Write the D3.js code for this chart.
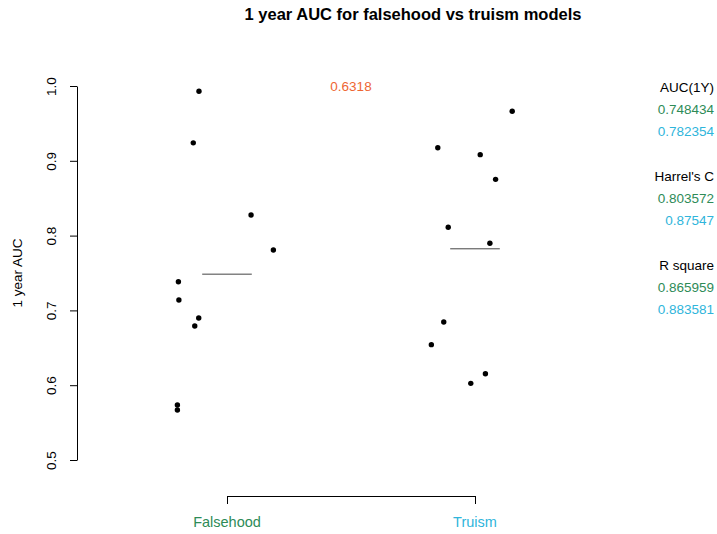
<!DOCTYPE html>
<html>
<head>
<meta charset="utf-8">
<script src="https://cdn.jsdelivr.net/npm/d3@7"></script>
<style>
  body { margin: 0; background: #fff; }
  text { font-family: "Liberation Sans", Arial, sans-serif; }
</style>
</head>
<body>
<svg id="chart" width="717" height="534"></svg>
<script>
const groups = ['Falsehood', 'Truism'];
const groupColours = ['#2e8b57', '#2fb5db'];

// AUC values, with their horizontal jitter (in group units)
const falsehoodAUC = [0.993, 0.924, 0.8275, 0.7807, 0.7384, 0.7139, 0.6898, 0.6791, 0.5735, 0.5668];
const falsehoodJitter = [-0.113, -0.136, 0.097, 0.187, -0.196, -0.194, -0.114, -0.130, -0.200, -0.200];
const truismAUC = [0.9662, 0.9175, 0.9082, 0.8752, 0.8111, 0.7897, 0.6845, 0.6542, 0.6154, 0.6025];
const truismJitter = [0.150, -0.150, 0.021, 0.083, -0.108, 0.060, -0.126, -0.176, 0.042, -0.017];

const groupMeans = [0.748434, 0.782354];
const pValue = '0.6318';

const statTitles = ['AUC(1Y)', "Harrel's C", 'R square'];
const statFalsehood = ['0.748434', '0.803572', '0.865959'];
const statTruism = ['0.782354', '0.87547', '0.883581'];

const yTicks = [0.5, 0.6, 0.7, 0.8, 0.9, 1.0];

const width = 717, height = 534;
const vis = d3.select('#chart');

const xScale = d3.scaleLinear().domain([1, 2]).range([227, 475]);
const yScale = d3.scaleLinear().domain([0.5, 1.0]).range([460, 86]);
const axisX = 77;

// title
vis.append('text')
  .attr('x', 413)
  .attr('y', 20)
  .attr('text-anchor', 'middle')
  .style('font-size', '16.5px')
  .style('font-weight', 'bold')
  .text('1 year AUC for falsehood vs truism models');

// y axis
const yAxis = d3.axisLeft(yScale)
  .tickValues(yTicks)
  .tickFormat(d3.format('.1f'))
  .tickSize(7)
  .tickSizeOuter(0);

const yg = vis.append('g')
  .attr('transform', 'translate(' + axisX + ',0)')
  .call(yAxis);
yg.select('.domain').attr('stroke', '#000');
yg.selectAll('.tick line').attr('stroke', '#000');
yg.selectAll('.tick text')
  .attr('transform', 'rotate(-90)')
  .attr('x', 0)
  .attr('y', -21)
  .attr('dy', 0)
  .attr('text-anchor', 'middle')
  .style('font-size', '13.5px')
  .style('font-family', '"Liberation Sans", Arial, sans-serif')
  .attr('fill', '#000');

vis.append('text')
  .attr('transform', 'translate(22,' + yScale(0.75) + ') rotate(-90)')
  .attr('text-anchor', 'middle')
  .style('font-size', '13.5px')
  .text('1 year AUC');

// x axis (bracket between the two groups)
const xAxis = d3.axisBottom(xScale)
  .tickValues([1, 2])
  .tickFormat('')
  .tickSize(8)
  .tickSizeOuter(0);
const xg = vis.append('g')
  .attr('transform', 'translate(0,496)')
  .call(xAxis);
xg.select('.domain').attr('stroke', '#000');
xg.selectAll('.tick line').attr('stroke', '#000');

vis.selectAll('.grp-label')
  .data(groups)
  .enter()
  .append('text')
  .attr('class', 'grp-label')
  .attr('x', (d, i) => xScale(i + 1))
  .attr('y', 527)
  .attr('text-anchor', 'middle')
  .style('font-size', '14.5px')
  .attr('fill', (d, i) => groupColours[i])
  .text(d => d);

// mean lines
vis.selectAll('.mean')
  .data(groupMeans)
  .enter()
  .append('line')
  .attr('class', 'mean')
  .attr('x1', (d, i) => xScale(i + 1 - 0.1))
  .attr('x2', (d, i) => xScale(i + 1 + 0.1))
  .attr('y1', d => yScale(d))
  .attr('y2', d => yScale(d))
  .attr('stroke', '#444')
  .attr('stroke-width', 1);

// points
const points = [];
falsehoodAUC.forEach((v, i) => points.push({ g: 1, j: falsehoodJitter[i], v: v }));
truismAUC.forEach((v, i) => points.push({ g: 2, j: truismJitter[i], v: v }));

vis.selectAll('.pt')
  .data(points)
  .enter()
  .append('circle')
  .attr('class', 'pt')
  .attr('cx', d => xScale(d.g + d.j))
  .attr('cy', d => yScale(d.v))
  .attr('r', 2.7)
  .attr('fill', '#000');

// p value
vis.append('text')
  .attr('x', xScale(1.5))
  .attr('y', yScale(1.0) + 5)
  .attr('text-anchor', 'middle')
  .style('font-size', '13.5px')
  .attr('fill', '#ee6633')
  .text(pValue);

// stats on the right
statTitles.forEach((t, i) => {
  const y0 = 92 + i * 89;
  const rows = [[t, '#000'], [statFalsehood[i], groupColours[0]], [statTruism[i], groupColours[1]]];
  rows.forEach((r, k) => {
    vis.append('text')
      .attr('x', 714)
      .attr('y', y0 + k * 22)
      .attr('text-anchor', 'end')
      .style('font-size', '13.5px')
      .attr('fill', r[1])
      .text(r[0]);
  });
});
</script>
</body>
</html>
